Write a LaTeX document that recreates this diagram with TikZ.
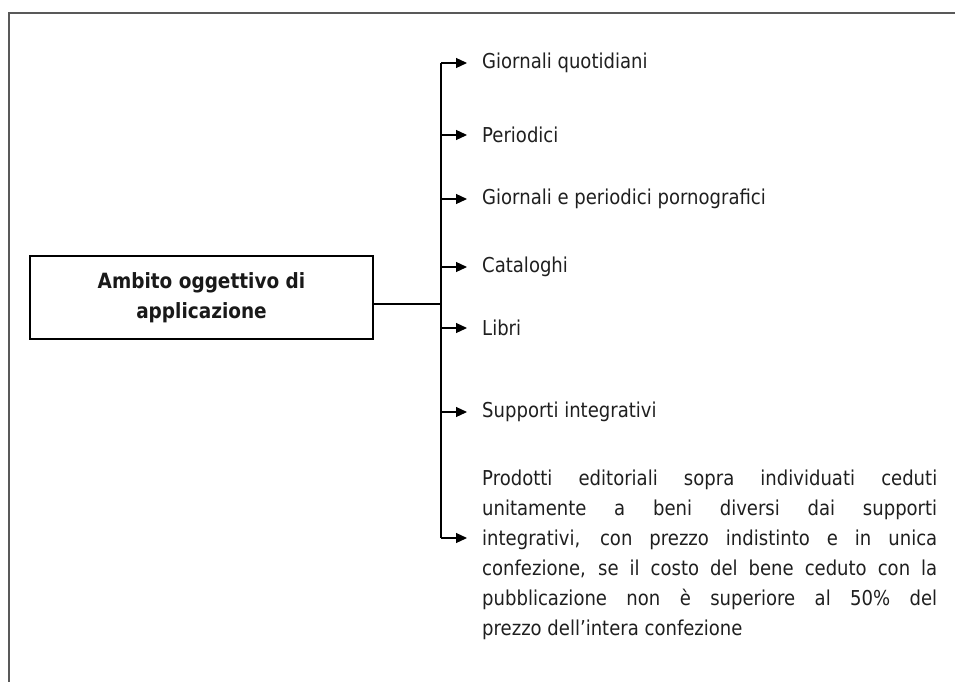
\documentclass[tikz,border=0pt]{standalone}
\usepackage{fontspec}
\setmainfont{DejaVu Sans}[FakeStretch=0.88]
\usetikzlibrary{arrows.meta}
\tikzset{
  x=1pt, y=-1pt,
  frameline/.style={draw=black!65, line width=2pt},
  boxnode/.style={draw=black, line width=1.3pt, minimum width=343pt, minimum height=83pt,
    align=center, inner sep=0pt, font=\bfseries\fontsize{21}{30}\selectfont, text=black!90},
  itemnode/.style={anchor=west, inner xsep=15pt, inner ysep=0pt,
    font=\fontsize{20.5}{30}\selectfont, text=black!88},
  wire/.style={draw=black, line width=1.2pt},
  arr/.style={wire, -{Triangle[length=11pt,width=10pt]}}
}
\begin{document}
\begin{tikzpicture}
\useasboundingbox (0,0) rectangle (955,682);
\draw[frameline] (9,682) -- (9,13) -- (955,13);

\node[boxnode] (box) at (201.5,297.5) {Ambito oggettivo di\\applicazione};

\coordinate (top) at (441,63);
\coordinate (bot) at (441,538);
\coordinate (j) at (441,304);

\node[itemnode] (t1) at (467,63) {Giornali quotidiani};
\node[itemnode] (t2) at (467,135) {Periodici};
\node[itemnode] (t3) at (467,199) {Giornali e periodici pornografici};
\node[itemnode] (t4) at (467,267) {Cataloghi};
\node[itemnode] (t5) at (467,328) {Libri};
\node[itemnode] (t6) at (467,412) {Supporti integrativi};
\node[itemnode, text width=455pt, align=justify] (t7) at (467,555) {%
\hbadness=10000 \emergencystretch=0pt
Prodotti editoriali sopra individuati ceduti\linebreak
unitamente a beni diversi dai supporti\linebreak
integrativi, con prezzo indistinto e in unica\linebreak
confezione, se il costo del bene ceduto con la\linebreak
pubblicazione non è superiore al 50\% del\linebreak
prezzo dell’intera confezione};
\coordinate (p7) at (467,538);

\draw[wire] (box.east |- j) -- (j);
\draw[wire] (top) -- (bot);
\draw[arr] (t1.west -| top) -- (t1.west);
\draw[arr] (t2.west -| top) -- (t2.west);
\draw[arr] (t3.west -| top) -- (t3.west);
\draw[arr] (t4.west -| top) -- (t4.west);
\draw[arr] (t5.west -| top) -- (t5.west);
\draw[arr] (t6.west -| top) -- (t6.west);
\draw[arr] (bot) -- (p7);
\end{tikzpicture}
\end{document}
